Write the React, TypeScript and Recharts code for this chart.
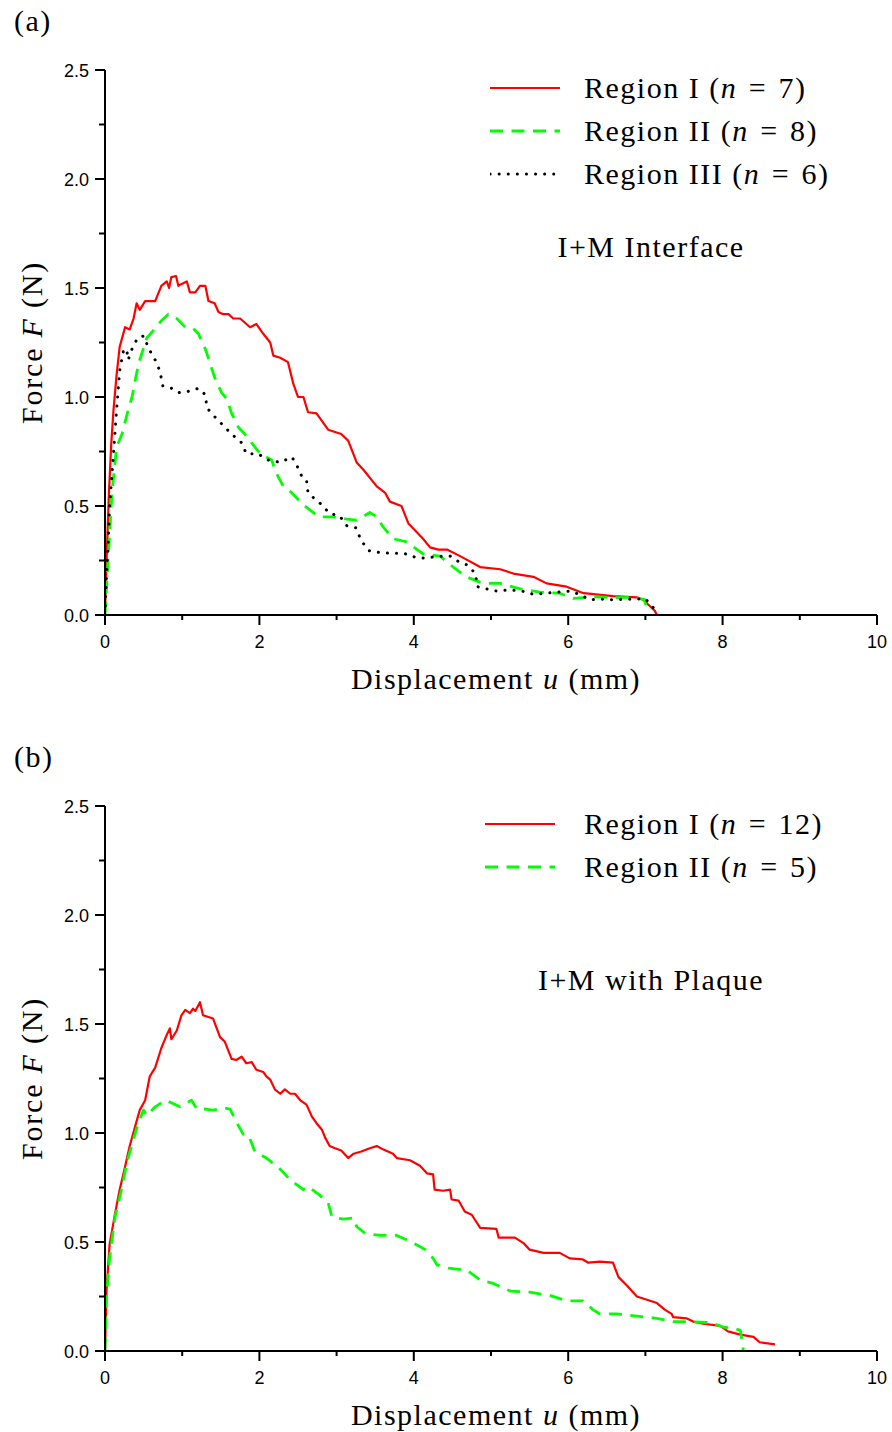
import React from 'react';
import { LineChart, Line, XAxis, YAxis, Legend } from 'recharts';

// force-displacement curves as [u (mm), F (N)]
const interfaceRegionI: [number, number][] = [
  [0, 0.01], [0.02, 0.25], [0.05, 0.55], [0.08, 0.78], [0.11, 0.94], [0.15, 1.1], [0.19, 1.23],
  [0.26, 1.32], [0.32, 1.31], [0.37, 1.36], [0.41, 1.43], [0.45, 1.4], [0.52, 1.44], [0.65, 1.44],
  [0.73, 1.51], [0.8, 1.53], [0.83, 1.5], [0.86, 1.55], [0.92, 1.555], [0.95, 1.51], [1.0, 1.52],
  [1.06, 1.53], [1.1, 1.48], [1.17, 1.48], [1.23, 1.51], [1.3, 1.51], [1.34, 1.44], [1.42, 1.43],
  [1.47, 1.39], [1.53, 1.38], [1.6, 1.38], [1.66, 1.36], [1.75, 1.36], [1.88, 1.32], [1.96, 1.335],
  [2.05, 1.29], [2.14, 1.25], [2.18, 1.19], [2.27, 1.18], [2.37, 1.16], [2.44, 1.06], [2.5, 1.0],
  [2.57, 1.0], [2.63, 0.93], [2.74, 0.925], [2.83, 0.88], [2.89, 0.85], [3.06, 0.83], [3.15, 0.8],
  [3.26, 0.7], [3.35, 0.665], [3.52, 0.59], [3.63, 0.56], [3.69, 0.52], [3.84, 0.5], [3.93, 0.42],
  [4.12, 0.35], [4.21, 0.31], [4.32, 0.3], [4.43, 0.3], [4.6, 0.27], [4.86, 0.22], [5.12, 0.21],
  [5.29, 0.19], [5.55, 0.175], [5.72, 0.145], [5.98, 0.13], [6.2, 0.1], [6.58, 0.087], [6.89, 0.081],
  [6.97, 0.07], [7.06, 0.04], [7.12, 0.02], [7.15, 0.0],
];

const interfaceRegionII: [number, number][] = [
  [0, 0], [0.04, 0.25], [0.09, 0.56], [0.15, 0.77], [0.22, 0.83], [0.3, 0.94], [0.35, 1.0],
  [0.41, 1.11], [0.45, 1.17], [0.54, 1.27], [0.65, 1.315], [0.73, 1.35], [0.82, 1.38], [0.93, 1.36],
  [1.04, 1.32], [1.14, 1.315], [1.21, 1.29], [1.3, 1.22], [1.36, 1.155], [1.42, 1.09], [1.51, 1.02],
  [1.58, 0.99], [1.64, 0.925], [1.73, 0.86], [1.81, 0.83], [1.92, 0.78], [2.01, 0.74], [2.16, 0.71],
  [2.22, 0.65], [2.31, 0.59], [2.42, 0.56], [2.57, 0.505], [2.77, 0.45], [2.96, 0.45], [3.13, 0.44],
  [3.26, 0.435], [3.43, 0.47], [3.52, 0.45], [3.6, 0.405], [3.73, 0.35], [3.91, 0.335], [4.12, 0.28],
  [4.34, 0.27], [4.51, 0.22], [4.68, 0.175], [4.9, 0.145], [5.12, 0.145], [5.38, 0.12], [5.63, 0.105],
  [5.89, 0.1], [6.07, 0.076], [6.32, 0.084], [6.58, 0.08], [6.84, 0.081], [6.99, 0.07], [7.02, 0.02],
];

const interfaceRegionIII: [number, number][] = [
  [0, 0], [0.02, 0.19], [0.04, 0.31], [0.06, 0.5], [0.11, 0.74], [0.15, 0.94], [0.19, 1.12],
  [0.24, 1.215], [0.28, 1.22], [0.3, 1.17], [0.35, 1.22], [0.42, 1.27], [0.5, 1.28], [0.57, 1.22],
  [0.65, 1.17], [0.71, 1.12], [0.75, 1.05], [0.86, 1.04], [0.95, 1.02], [1.07, 1.025], [1.21, 1.04],
  [1.3, 1.01], [1.32, 0.95], [1.42, 0.91], [1.53, 0.87], [1.64, 0.83], [1.77, 0.79], [1.83, 0.74],
  [1.98, 0.74], [2.12, 0.71], [2.27, 0.7], [2.42, 0.725], [2.48, 0.69], [2.55, 0.635], [2.61, 0.62],
  [2.63, 0.56], [2.71, 0.535], [2.81, 0.505], [2.91, 0.465], [3.04, 0.455], [3.13, 0.41], [3.25, 0.4],
  [3.32, 0.34], [3.42, 0.295], [3.58, 0.285], [3.73, 0.283], [3.87, 0.283], [4.02, 0.265], [4.15, 0.26],
  [4.31, 0.27], [4.47, 0.27], [4.55, 0.25], [4.69, 0.23], [4.8, 0.19], [4.82, 0.13], [4.94, 0.12],
  [5.07, 0.11], [5.24, 0.115], [5.4, 0.11], [5.55, 0.095], [5.71, 0.1], [5.87, 0.105], [6.04, 0.11],
  [6.17, 0.09], [6.28, 0.07], [6.44, 0.072], [6.6, 0.07], [6.75, 0.072], [6.9, 0.073], [6.99, 0.076],
  [7.05, 0.056], [7.12, 0.026],
];

const plaqueRegionI: [number, number][] = [
  [0, 0], [0.02, 0.28], [0.06, 0.49], [0.13, 0.63], [0.19, 0.74], [0.26, 0.845], [0.32, 0.94],
  [0.39, 1.03], [0.45, 1.105], [0.52, 1.15], [0.58, 1.26], [0.65, 1.3], [0.73, 1.39], [0.8, 1.45],
  [0.84, 1.48], [0.86, 1.43], [0.93, 1.47], [0.99, 1.54], [1.04, 1.565], [1.1, 1.55], [1.14, 1.57],
  [1.17, 1.56], [1.23, 1.6], [1.27, 1.54], [1.4, 1.525], [1.49, 1.44], [1.55, 1.42], [1.64, 1.34],
  [1.7, 1.335], [1.77, 1.35], [1.83, 1.32], [1.9, 1.325], [1.96, 1.29], [2.05, 1.28], [2.09, 1.26],
  [2.14, 1.245], [2.2, 1.2], [2.27, 1.18], [2.33, 1.2], [2.4, 1.18], [2.46, 1.18], [2.53, 1.15],
  [2.61, 1.13], [2.68, 1.075], [2.74, 1.045], [2.81, 1.015], [2.85, 0.98], [2.91, 0.94], [2.98, 0.93],
  [3.06, 0.92], [3.15, 0.885], [3.22, 0.905], [3.32, 0.915], [3.43, 0.93], [3.52, 0.94], [3.6, 0.925],
  [3.73, 0.905], [3.78, 0.885], [3.95, 0.875], [4.08, 0.85], [4.17, 0.815], [4.25, 0.81], [4.27, 0.74],
  [4.38, 0.735], [4.47, 0.74], [4.49, 0.695], [4.58, 0.69], [4.66, 0.64], [4.75, 0.625], [4.86, 0.565],
  [5.07, 0.56], [5.1, 0.52], [5.31, 0.52], [5.42, 0.495], [5.5, 0.465], [5.68, 0.45], [5.89, 0.45],
  [6.02, 0.425], [6.19, 0.42], [6.26, 0.405], [6.41, 0.41], [6.58, 0.405], [6.65, 0.34], [6.76, 0.3],
  [6.89, 0.25], [7.02, 0.235], [7.15, 0.22], [7.25, 0.19], [7.34, 0.17], [7.36, 0.155], [7.53, 0.15],
  [7.62, 0.135], [7.75, 0.125], [7.97, 0.115], [8.07, 0.09], [8.23, 0.075], [8.4, 0.065], [8.48, 0.04],
  [8.68, 0.03],
];

const plaqueRegionII: [number, number][] = [
  [0, 0], [0.02, 0.25], [0.06, 0.43], [0.13, 0.615], [0.22, 0.75], [0.28, 0.86], [0.35, 0.95],
  [0.43, 1.045], [0.5, 1.105], [0.54, 1.08], [0.65, 1.12], [0.78, 1.15], [0.82, 1.145], [0.97, 1.12],
  [1.12, 1.15], [1.19, 1.11], [1.3, 1.11], [1.4, 1.105], [1.55, 1.115], [1.62, 1.11], [1.71, 1.045],
  [1.79, 0.995], [1.86, 0.99], [1.94, 0.915], [2.09, 0.885], [2.24, 0.845], [2.4, 0.785], [2.57, 0.74],
  [2.63, 0.755], [2.78, 0.715], [2.89, 0.68], [2.94, 0.615], [3.09, 0.605], [3.22, 0.61], [3.26, 0.57],
  [3.37, 0.54], [3.56, 0.53], [3.78, 0.53], [3.97, 0.5], [4.15, 0.465], [4.25, 0.425], [4.3, 0.395],
  [4.45, 0.38], [4.69, 0.37], [4.86, 0.325], [5.03, 0.31], [5.25, 0.275], [5.5, 0.27], [5.76, 0.255],
  [5.98, 0.23], [6.19, 0.23], [6.32, 0.19], [6.41, 0.17], [6.63, 0.17], [6.89, 0.16], [7.15, 0.15],
  [7.36, 0.135], [7.58, 0.135], [7.84, 0.13], [8.01, 0.11], [8.14, 0.105], [8.23, 0.095], [8.25, 0.05],
  [8.27, 0.0],
];

const xTicks = [0, 1, 2, 3, 4, 5, 6, 7, 8, 9, 10];
const yTicks = [0, 0.25, 0.5, 0.75, 1, 1.25, 1.5, 1.75, 2, 2.25, 2.5];

const interfaceNames = ['Region I', 'Region II', 'Region III'];
const interfaceCounts = [7, 8, 6];
const plaqueNames = ['Region I', 'Region II'];
const plaqueCounts = [12, 5];

const SANS = '"Liberation Sans", Arial, sans-serif';
const SERIF = '"Liberation Serif", "Times New Roman", serif';

const styles = [
  { stroke: '#ff0000', strokeWidth: 2.2, strokeDasharray: undefined, strokeLinecap: 'butt' },
  { stroke: '#00ff00', strokeWidth: 2.8, strokeDasharray: '13 8.5', strokeLinecap: 'butt' },
  { stroke: '#000000', strokeWidth: 3, strokeDasharray: '0.1 9', strokeLinecap: 'round' },
];

const toPoints = (pts: [number, number][]) => pts.map(([x, y]) => ({ x, y }));

const XTick = (props: any) => {
  const { x, y, payload } = props;
  const major = payload.value % 2 === 0;
  return (
    <g>
      <line x1={x} y1={y} x2={x} y2={y + (major ? 10 : 5)} stroke="#000" strokeWidth={2} />
      {major && (
        <text x={x} y={y + 33} textAnchor="middle" fontFamily={SANS} fontSize={18} fill="#000">
          {payload.value}
        </text>
      )}
    </g>
  );
};

const YTick = (props: any) => {
  const { x, y, payload } = props;
  const major = Math.abs(payload.value * 2 - Math.round(payload.value * 2)) < 1e-6;
  return (
    <g>
      <line x1={x - (major ? 10 : 6)} y1={y} x2={x} y2={y} stroke="#000" strokeWidth={2} />
      {major && (
        <text x={x - 16} y={y + 6.5} textAnchor="end" fontFamily={SANS} fontSize={18} fill="#000">
          {payload.value.toFixed(1)}
        </text>
      )}
    </g>
  );
};

const XLabel = (props: any) => {
  const vb = props.viewBox;
  return (
    <text x={vb.x + vb.width / 2 + 5} y={vb.y + 74} textAnchor="middle" fontFamily={SERIF} fontSize={30} letterSpacing={1.5} fill="#000">
      Displacement <tspan fontStyle="italic">u</tspan> (mm)
    </text>
  );
};

const YLabel = (props: any) => {
  const vb = props.viewBox;
  const cx = vb.x + vb.width - 63;
  const cy = vb.y + vb.height / 2;
  return (
    <text x={cx} y={cy} transform={`rotate(-90, ${cx}, ${cy})`} textAnchor="middle" fontFamily={SERIF} fontSize={30} letterSpacing={1.8} fill="#000">
      Force <tspan fontStyle="italic">F</tspan> (N)
    </text>
  );
};

function LegendBox({ names, counts, lineLeft, noteTop, noteX, note }: any) {
  return (
    <div style={{ position: 'relative', fontFamily: SERIF, fontSize: 30, letterSpacing: 1.5, color: '#000' }}>
      {names.map((name: string, i: number) => (
        <div key={name} style={{ display: 'flex', alignItems: 'center', height: 43 }}>
          <svg width={80} height={10} style={{ marginLeft: lineLeft }}>
            <line x1={0} y1={5} x2={70} y2={5} {...(styles[i] as any)} />
          </svg>
          <span style={{ marginLeft: 24 - lineLeft, whiteSpace: 'pre' }}>
            {name} (<i>n</i>{'\u2004=\u2004'}{counts[i]})
          </span>
        </div>
      ))}
      <div style={{ position: 'absolute', top: noteTop, left: noteX, transform: 'translateX(-50%)', whiteSpace: 'nowrap', lineHeight: '30px' }}>
        {note}
      </div>
    </div>
  );
}

function Panel({ series, names, counts, marginTop, marginBottom, legendTop, lineLeft, noteTop, note }: any) {
  return (
    <LineChart width={892} height={716} margin={{ top: marginTop, right: 15, bottom: marginBottom, left: 35 }}>
      <XAxis
        type="number"
        dataKey="x"
        domain={[0, 10]}
        ticks={xTicks}
        interval={0}
        height={60}
        tickSize={0}
        tickMargin={0}
        tickLine={false}
        tick={<XTick />}
        axisLine={{ stroke: '#000', strokeWidth: 2 }}
        allowDataOverflow
        label={{ content: <XLabel /> } as any}
      />
      <YAxis
        type="number"
        dataKey="y"
        domain={[0, 2.5]}
        ticks={yTicks}
        interval={0}
        width={70}
        tickSize={0}
        tickMargin={0}
        tickLine={false}
        tick={<YTick />}
        axisLine={{ stroke: '#000', strokeWidth: 2 }}
        allowDataOverflow
        label={{ content: <YLabel /> } as any}
      />
      <Legend
        layout="vertical"
        align="center"
        verticalAlign="middle"
        wrapperStyle={{ top: legendTop, left: 480, width: 400, height: 'auto' }}
        content={() => (
          <LegendBox names={names} counts={counts} lineLeft={lineLeft} noteTop={noteTop} noteX={171} note={note} />
        )}
      />
      {series.map((pts: [number, number][], i: number) => (
        <Line
          key={i}
          data={toPoints(pts)}
          dataKey="y"
          type="linear"
          dot={false}
          activeDot={false}
          isAnimationActive={false}
          stroke={styles[i].stroke}
          strokeWidth={styles[i].strokeWidth}
          strokeDasharray={styles[i].strokeDasharray}
          strokeLinecap={styles[i].strokeLinecap as any}
          strokeLinejoin="round"
        />
      ))}
    </LineChart>
  );
}

export default function App() {
  return (
    <div style={{ position: 'absolute', left: 0, top: 0, width: 892, height: 1432, background: '#fff' }}>
      <div style={{ position: 'absolute', left: 14, top: 4, fontFamily: SERIF, fontSize: 30, letterSpacing: 1.5, color: '#000' }}>(a)</div>
      <div style={{ position: 'absolute', left: 14, top: 740, fontFamily: SERIF, fontSize: 30, letterSpacing: 1.5, color: '#000' }}>(b)</div>
      <div style={{ position: 'absolute', left: 0, top: 0 }}>
        <Panel
          series={[interfaceRegionI, interfaceRegionII, interfaceRegionIII]}
          names={interfaceNames}
          counts={interfaceCounts}
          marginTop={70}
          marginBottom={41}
          legendTop={66.5}
          lineLeft={10}
          noteTop={165}
          note="I+M Interface"
        />
      </div>
      <div style={{ position: 'absolute', left: 0, top: 716 }}>
        <Panel
          series={[plaqueRegionI, plaqueRegionII]}
          names={plaqueNames}
          counts={plaqueCounts}
          marginTop={90}
          marginBottom={21}
          legendTop={86.5}
          lineLeft={5}
          noteTop={162.5}
          note="I+M with Plaque"
        />
      </div>
    </div>
  );
}
